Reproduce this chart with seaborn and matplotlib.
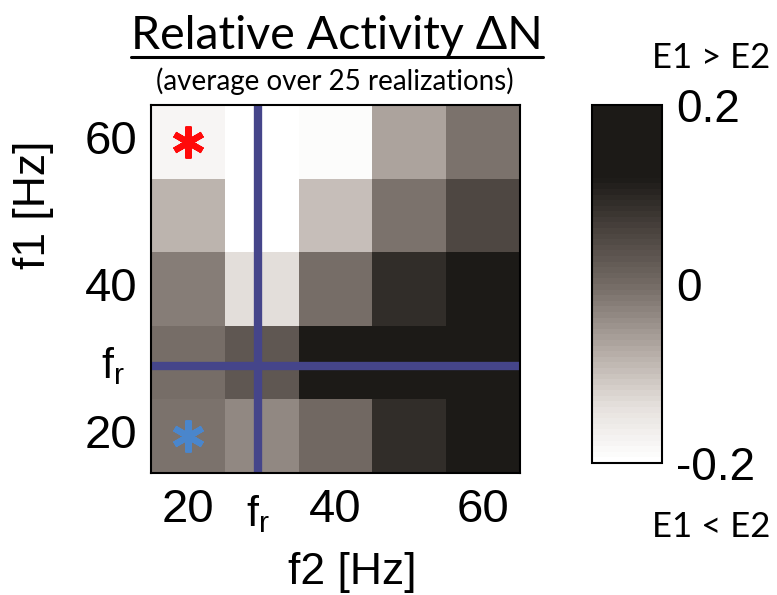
import numpy as np
import pandas as pd
import matplotlib.pyplot as plt
import seaborn as sns
from matplotlib.colors import LinearSegmentedColormap
from matplotlib.transforms import blended_transform_factory
from matplotlib.lines import Line2D

# data
f2_hz = [20, 30, 40, 50, 60]
f1_hz = [60, 50, 40, 30, 20]  # top row first
delta_n = [
    [-0.176, -0.200, -0.190, -0.068, -0.010],
    [-0.084, -0.200, -0.100, -0.012, 0.056],
    [-0.020, -0.136, -0.006, 0.088, 0.160],
    [-0.002, 0.028, 0.160, 0.160, 0.160],
    [-0.008, -0.032, 0.004, 0.088, 0.160],
]
f_r = 29.5
x_ticks = [20, 40, 60]
y_ticks = [60, 40, 20]
cbar_ticks = [-0.2, 0, 0.2]
cbar_labels = ['-0.2', '0', '0.2']
star_f2 = [20, 20]
star_f1 = [60, 20]
star_colors = ['#ff0a0a', '#4a86cc']

cmap = LinearSegmentedColormap.from_list(
    'graybrown',
    [(0.0, '#ffffff'), (0.15, '#e6e1dd'), (0.3, '#b8afa9'), (0.5, '#736a64'),
     (0.65, '#4a433e'), (0.8, '#1c1a17'), (1.0, '#1c1a17')],
    N=64,
)

sns.set_style('white')
plt.rcParams['font.family'] = ['Liberation Sans', 'DejaVu Sans']
plt.rcParams['mathtext.default'] = 'regular'
for key in ['text.color', 'axes.labelcolor', 'xtick.color', 'ytick.color']:
    plt.rcParams[key] = 'black'
calibri_like = ['Lato', 'DejaVu Sans']

fig = plt.figure(figsize=(7.77, 5.95), dpi=100)
ax = fig.add_axes([0.1943, 0.205, 0.4749, 0.6185])
cax = fig.add_axes([0.7619, 0.2218, 0.0901, 0.6017])

df = pd.DataFrame(delta_n, index=f1_hz, columns=f2_hz)
sns.heatmap(df, cmap=cmap, vmin=-0.2, vmax=0.2, ax=ax, cbar_ax=cax)


def col_pos(v):
    return np.interp(v, f2_hz, np.arange(len(f2_hz)) + 0.5)


def row_pos(v):
    return np.interp(v, f1_hz[::-1], (np.arange(len(f1_hz)) + 0.5)[::-1])


ax.set_xticks(col_pos(x_ticks))
ax.set_xticklabels([str(t) for t in x_ticks], rotation=0)
ax.set_yticks(row_pos(y_ticks))
ax.set_yticklabels([str(t) for t in y_ticks], rotation=0)
ax.tick_params(direction='in', length=4, width=1.2, top=True, right=True,
               labelsize=34, color='black', labelcolor='black')
ax.tick_params(axis='x', pad=11)
ax.tick_params(axis='y', pad=10)
for s in ax.spines.values():
    s.set_visible(True)
    s.set_linewidth(1.5)
    s.set_color('black')

# resonance lines
ax.axvline(col_pos(f_r), color='#45458a', lw=6)
ax.axhline(row_pos(f_r), color='#45458a', lw=6)

# markers
for x, y, c in zip(star_f2, star_f1, star_colors):
    ax.plot(col_pos(x), row_pos(y), linestyle='none', marker=(6, 2, 0),
            ms=23, mew=4.5, color=c)

ax.set_xlabel('f2 [Hz]', fontsize=32)
ax.set_ylabel('f1 [Hz]', fontsize=32)
ax.xaxis.set_label_coords(0.545, -0.215)
ax.yaxis.set_label_coords(-0.262, 0.728)

fr_text = r'$f_r$'
ax.text(col_pos(f_r), -0.055, fr_text, transform=blended_transform_factory(ax.transData, ax.transAxes),
        ha='center', va='top', fontsize=31)
ax.text(-0.07, row_pos(f_r), fr_text, transform=blended_transform_factory(ax.transAxes, ax.transData),
        ha='right', va='center', fontsize=31)

# colorbar
cbar = ax.collections[0].colorbar
cbar.set_ticks(cbar_ticks, labels=cbar_labels)
cbar.ax.tick_params(direction='in', length=4, width=1.2, left=True, right=True,
                    labelsize=33, pad=10, color='black', labelcolor='black')
cbar.outline.set_linewidth(1.5)
cbar.outline.set_edgecolor('black')

fig.text(711 / 777, 1 - 68 / 595, 'E1 > E2', ha='center', va='baseline',
         fontsize=25, family=calibri_like)
fig.text(711 / 777, 1 - 537 / 595, 'E1 < E2', ha='center', va='baseline',
         fontsize=25, family=calibri_like)

title = fig.text(337 / 777, 1 - 49 / 595, 'Relative Activity \u0394N', ha='center',
                 va='baseline', fontsize=33.5, family=calibri_like)
fig.text(335 / 777, 1 - 90 / 595, '(average over 25 realizations)', ha='center',
         va='baseline', fontsize=20, family=calibri_like)

fig.canvas.draw()
bb = title.get_window_extent().transformed(fig.transFigure.inverted())
fig.add_artist(Line2D([bb.x0, bb.x1], [1 - 57 / 595] * 2, transform=fig.transFigure,
                      color='black', lw=2.2))

fig.savefig('out.png', dpi=100)
